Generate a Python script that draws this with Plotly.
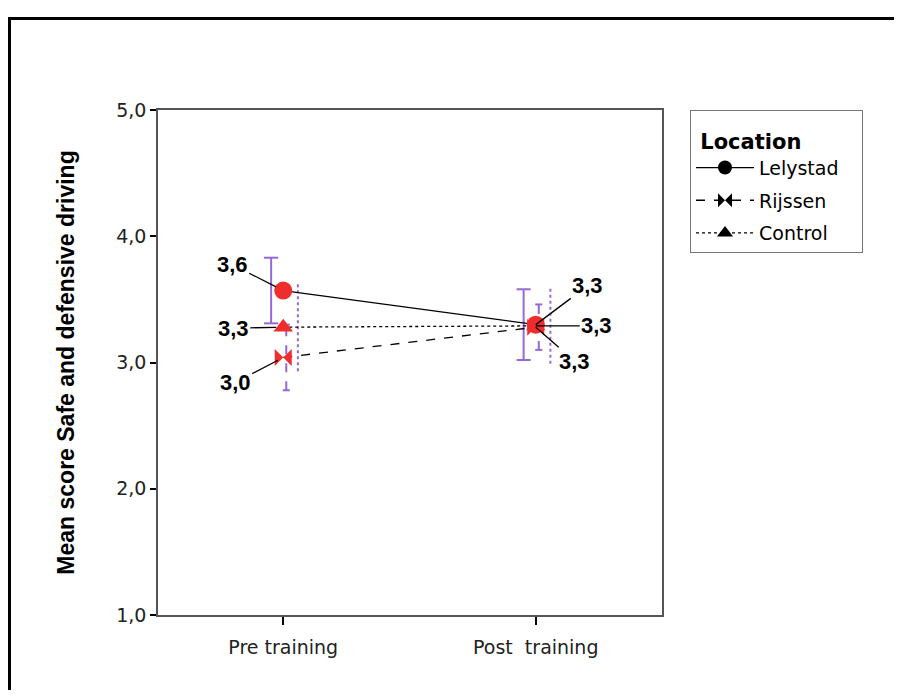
import plotly.graph_objects as go

# ---- data ----
categories = ["Pre training", "Post\u00a0 training"]
series = ["Lelystad", "Rijssen", "Control"]
lelystad_mean = [3.57, 3.30]
rijssen_mean = [3.04, 3.28]
control_mean = [3.28, 3.29]
lelystad_err = [0.26, 0.28]
rijssen_err = [0.26, 0.18]
control_err = [0.35, 0.30]
legend_title = "Location"

means = {"Lelystad": lelystad_mean, "Rijssen": rijssen_mean, "Control": control_mean}
errs = {"Lelystad": lelystad_err, "Rijssen": rijssen_err, "Control": control_err}

# ---- styles ----
RED = "rgb(240,45,45)"
PURPLE = "rgb(150,105,215)"
dash = {"Lelystad": "solid", "Rijssen": "dash", "Control": "dot"}
symbol = {"Lelystad": "circle", "Rijssen": "bowtie", "Control": "triangle-up"}
msize = {"Lelystad": 18, "Rijssen": 17, "Control": 17}
bar_offset = {"Lelystad": -0.048, "Rijssen": 0.012, "Control": 0.058}
cap_half = {"Lelystad": 0.028, "Rijssen": 0.014, "Control": 0.0}

# figure geometry (page body has an 8px margin)
W, H = 886, 682
ML, MT, MR, MB = 150, 102, 232, 75
PW, PH = W - ML - MR, H - MT - MB

xpos = list(range(len(categories)))

fig = go.Figure()

# error bars (custom, so that they can be dashed/dotted and offset)
for s in series:
    bx, by = [], []
    for i, x0 in enumerate(xpos):
        xc = x0 + bar_offset[s]
        lo = means[s][i] - errs[s][i]
        hi = means[s][i] + errs[s][i]
        bx += [xc, xc, None]
        by += [lo, hi, None]
        if cap_half[s] > 0:
            bx += [xc - cap_half[s], xc + cap_half[s], None, xc - cap_half[s], xc + cap_half[s], None]
            by += [lo, lo, None, hi, hi, None]
    fig.add_trace(go.Scatter(x=bx, y=by, mode="lines", showlegend=False, hoverinfo="skip",
                             line=dict(color=PURPLE, width=2, dash=dash[s])))

# connecting lines
for s in series:
    fig.add_trace(go.Scatter(x=xpos, y=means[s], mode="lines", showlegend=False,
                             line=dict(color="black", width=1.3, dash=dash[s])))

# markers
for s in series:
    fig.add_trace(go.Scatter(x=xpos, y=means[s], mode="markers", showlegend=False,
                             marker=dict(symbol=symbol[s], size=msize[s], color=RED,
                                         line=dict(width=0))))

# legend entries (black symbols)
for s in series:
    fig.add_trace(go.Scatter(x=[None], y=[None], mode="lines+markers", name=s, legendgroup=s,
                             line=dict(color="black", width=1.3, dash=dash[s]),
                             marker=dict(symbol=symbol[s], size=14, color="black")))

# value labels with leader lines
label_offsets = {
    ("Lelystad", 0): (-51, -26, 8),
    ("Control", 0): (-50, 1, 7),
    ("Rijssen", 0): (-48, 25, 6),
    ("Lelystad", 1): (52, -39, 0),
    ("Control", 1): (61, 0, 0),
    ("Rijssen", 1): (39, 34, 0),
}
for (s, i), (ax, ay, so) in label_offsets.items():
    v = means[s][i]
    fig.add_annotation(x=xpos[i], y=v, text=f"{v:.1f}".replace(".", ","),
                       showarrow=True, arrowhead=0, arrowwidth=1.3, arrowcolor="black",
                       ax=ax, ay=ay, standoff=so,
                       font=dict(family="Liberation Sans", size=22, color="black", weight="bold"))

# outer frame
L = (1.5 - ML) / PW
T = (PH + MT - 10.5) / PH
R = (W + 5 - ML) / PW
B = (PH + MT - (H + 10)) / PH
fig.add_shape(type="path", xref="paper", yref="paper",
              path=f"M {L} {B} L {L} {T} L {R} {T}",
              line=dict(color="black", width=3))

title_html = ("<span style='font-size:21px'>\u00a0" + legend_title
              + "\u00a0" * 8 + "</span>")

fig.update_layout(
    width=W, height=H,
    margin=dict(l=ML, r=MR, t=MT, b=MB),
    paper_bgcolor="white", plot_bgcolor="white",
    separators=",.",
    showlegend=True,
    legend=dict(
        x=(682 - ML) / PW, y=1.0, xanchor="left", yanchor="top",
        bordercolor="#777", borderwidth=1, bgcolor="white",
        font=dict(family="DejaVu Sans", size=19, color="black"),
        title=dict(text=title_html,
                   font=dict(family="DejaVu Sans", size=29, color="black", weight="bold")),
        itemwidth=58, tracegroupgap=5,
    ),
    xaxis=dict(
        range=[-0.496, 1.5], tickvals=xpos, ticktext=categories,
        showgrid=False, zeroline=False, showline=True, linecolor="#555", linewidth=1.5, mirror=True,
        ticks="outside", ticklen=8, tickwidth=2, tickcolor="black",
        ticklabelstandoff=6,
        tickfont=dict(family="DejaVu Sans", size=19, color="#222"),
    ),
    yaxis=dict(
        range=[1, 5], tickvals=[1, 2, 3, 4, 5], tickformat=".1f",
        showgrid=False, zeroline=False, showline=True, linecolor="#555", linewidth=1.5, mirror=True,
        ticks="outside", ticklen=6, tickwidth=2, tickcolor="black",
        tickfont=dict(family="DejaVu Sans", size=19, color="#222"),
        title=dict(text="Mean score Safe and defensive driving", standoff=35,
                   font=dict(family="Liberation Sans", size=23, color="black", weight="bold")),
    ),
)

fig.write_html("out.html")
